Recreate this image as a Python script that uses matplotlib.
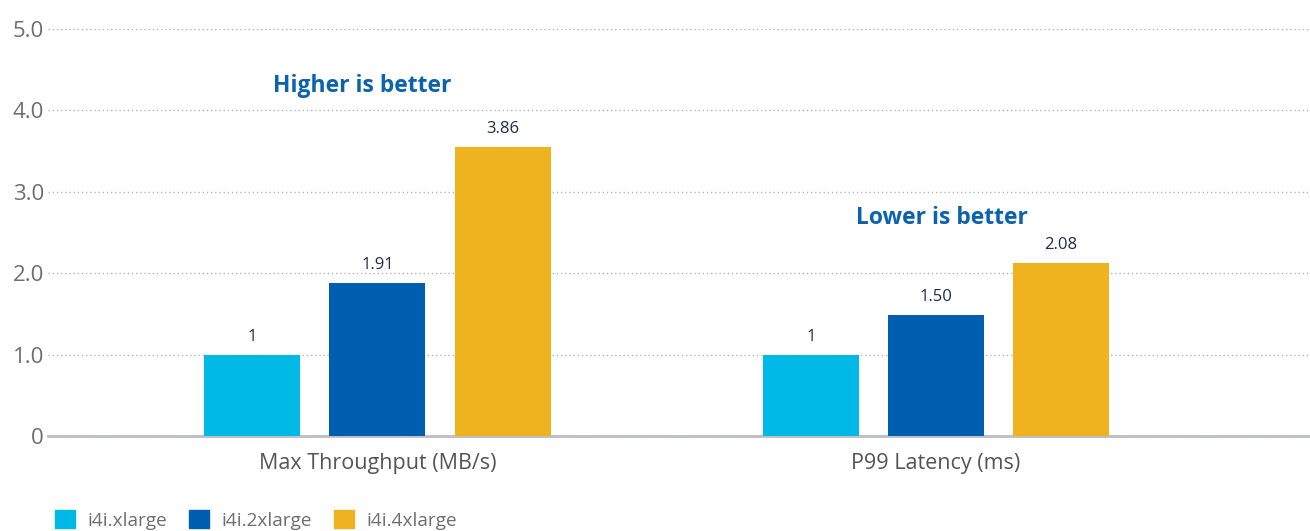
import numpy as np
import matplotlib.pyplot as plt
from matplotlib.patches import Patch

plt.rcParams['font.family'] = ['Open Sans', 'DejaVu Sans']

categories = ['Max Throughput (MB/s)', 'P99 Latency (ms)']
series = ['i4i.xlarge', 'i4i.2xlarge', 'i4i.4xlarge']
# bar heights as drawn in the picture, and the labels printed above them
heights = [[1.0, 1.0], [1.88, 1.49], [3.55, 2.13]]
labels = [['1', '1'], ['1.91', '1.50'], ['3.86', '2.08']]
notes = ['Higher is better', 'Lower is better']
yticks = [0, 1, 2, 3, 4, 5]
ytick_labels = ['0', '1.0', '2.0', '3.0', '4.0', '5.0']

colors = ['#00B9E7', '#005EB0', '#EEB31F']

fig = plt.figure(figsize=(13.1, 5.31), dpi=100)
ax = fig.add_axes([48 / 1310, 1 - 436 / 531, 1 - 48 / 1310, 407 / 531])

x = np.arange(len(categories))
width = 0.172
step = 0.224

for i, s in enumerate(series):
    pos = x + (i - 1) * step
    ax.bar(pos, heights[i], width=width, color=colors[i], zorder=3)
    for p, h, lab in zip(pos, heights[i], labels[i]):
        ax.annotate(lab, (p, h), xytext=(0, 7), textcoords='offset points',
                    ha='center', va='bottom', fontsize=12, color='#1E2B50')

# notes above each group
note_y = [4.3, 2.68]
for xi, n, ny in zip(x, notes, note_y):
    ax.text(xi - 0.027 + 0.037 * xi, ny, n, ha='center', va='center', fontsize=16.5,
            fontweight='bold', color='#0B63B0')

ax.set_xlim(-0.59, 1.67)
ax.set_ylim(0, 5)
ax.set_yticks(yticks)
ax.set_yticklabels(ytick_labels, fontsize=16, color='#6E6E6E')
ax.set_xticks(x)
ax.set_xticklabels(categories, fontsize=15.5, color='#555555')
ax.tick_params(axis='both', length=0)
ax.tick_params(axis='y', pad=3)
ax.tick_params(axis='x', pad=12)

ax.grid(axis='y', linestyle=(0, (1, 2)), color='#B5B5B5', linewidth=1, zorder=0)
for sp in ['top', 'right', 'left']:
    ax.spines[sp].set_visible(False)
ax.spines['bottom'].set_color('#BBBEC2')
ax.spines['bottom'].set_linewidth(2)

handles = [Patch(color=c, label=s) for c, s in zip(colors, series)]
fig.legend(handles=handles, loc='lower left', bbox_to_anchor=(0.029, -0.03), ncol=3,
           frameon=False, fontsize=13.7, handlelength=1.05, handleheight=1.05,
           handletextpad=0.65, columnspacing=1.15, labelcolor='#6E6E6E')

fig.savefig('out.png', dpi=100)
